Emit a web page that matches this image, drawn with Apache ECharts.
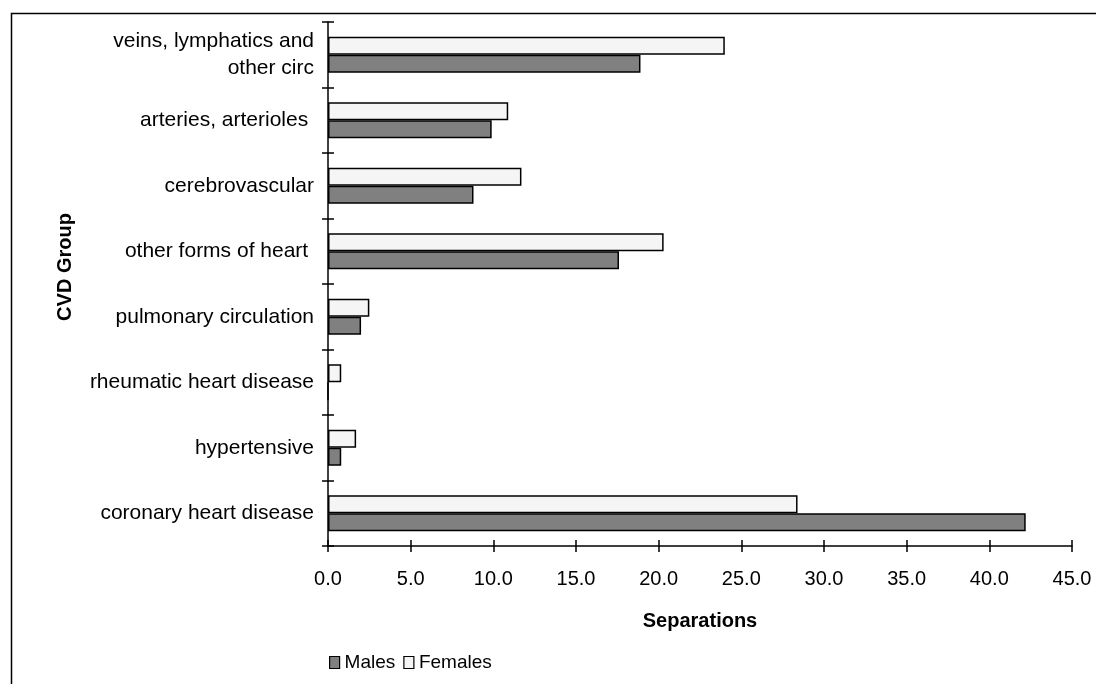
<!DOCTYPE html>
<html>
<head>
<meta charset="utf-8">
<script src="https://cdn.jsdelivr.net/npm/echarts@6/dist/echarts.min.js"></script>
<style>
  html, body { margin: 0; padding: 0; background: #fff; }
  #chart { width: 1096px; height: 684px; }
</style>
</head>
<body>
<div id="chart"></div>
<script>
// CVD groups, listed bottom to top
const categories = [
  'coronary heart disease',
  'hypertensive',
  'rheumatic heart disease',
  'pulmonary circulation',
  'other forms of heart ',
  'cerebrovascular',
  'arteries, arterioles ',
  'veins, lymphatics and\nother circ'
];
const males   = [42.2, 0.8, 0.0, 2.0, 17.6, 8.8, 9.9, 18.9];
const females = [28.4, 1.7, 0.8, 2.5, 20.3, 11.7, 10.9, 24.0];
const xTicks = { min: 0, max: 45, interval: 5 };

const FONT = 'Liberation Sans, Arial, sans-serif';
const chart = echarts.init(document.getElementById('chart'), null, { renderer: 'canvas' });

const barStyle = (fill) => ({ color: fill, borderColor: '#000', borderWidth: 1.5 });

chart.setOption({
  animation: false,
  backgroundColor: '#fff',
  textStyle: { fontFamily: FONT },
  grid: { left: 328, right: 24, top: 22, bottom: 138 },
  legend: {
    left: 324, top: 648,
    icon: 'rect',
    itemWidth: 10, itemHeight: 12, itemGap: 8,
    itemStyle: { borderColor: '#000', borderWidth: 1.2 },
    textStyle: { fontSize: 19, color: '#000', fontFamily: FONT },
    data: ['Males', 'Females']
  },
  xAxis: [{
    type: 'value', min: xTicks.min, max: xTicks.max, interval: xTicks.interval,
    name: 'Separations', nameLocation: 'middle', nameGap: 65,
    nameTextStyle: { fontSize: 20, fontWeight: 'bold', color: '#000', fontFamily: FONT },
    axisLine: { show: true, lineStyle: { color: '#000', width: 1.5 } },
    axisTick: { show: true, length: 6, lineStyle: { color: '#000', width: 1.5 } },
    axisLabel: { fontSize: 20, color: '#000', margin: 23, formatter: v => v.toFixed(1) },
    splitLine: { show: false }
  }, {
    type: 'value', min: xTicks.min, max: xTicks.max, interval: xTicks.interval,
    position: 'bottom',
    axisLine: { show: false },
    axisTick: { show: true, inside: true, length: 6, lineStyle: { color: '#000', width: 1.5 } },
    axisLabel: { show: false },
    splitLine: { show: false }
  }],
  yAxis: [{
    type: 'category', data: categories,
    axisLine: { show: true, lineStyle: { color: '#000', width: 1.5 } },
    axisTick: { show: true, length: 6, lineStyle: { color: '#000', width: 1.5 } },
    axisLabel: { fontSize: 21, color: '#000', margin: 14, align: 'right', lineHeight: 27 },
    splitLine: { show: false }
  }, {
    type: 'category', data: categories, position: 'left',
    axisLine: { show: false },
    axisTick: { show: true, inside: true, length: 6, lineStyle: { color: '#000', width: 1.5 } },
    axisLabel: { show: false },
    splitLine: { show: false }
  }],
  // Females listed first so each Females bar sits above its Males bar
  series: [{
    name: 'Females', type: 'bar', data: females,
    barGap: '0%', barCategoryGap: '45%',
    itemStyle: barStyle('#f5f5f5')
  }, {
    name: 'Males', type: 'bar', data: males,
    barGap: '0%', barCategoryGap: '45%',
    itemStyle: barStyle('#808080')
  }],
  graphic: [{
    type: 'rect', silent: true, z: -1,
    shape: { x: 11.5, y: 13.5, width: 1200, height: 800 },
    style: { fill: 'none', stroke: '#000', lineWidth: 1.5 }
  }, {
    type: 'text', x: 65, y: 267, rotation: Math.PI / 2,
    style: {
      text: 'CVD Group', fontSize: 20, fontWeight: 'bold', fill: '#000',
      fontFamily: FONT, align: 'center', verticalAlign: 'middle'
    }
  }]
});
</script>
</body>
</html>
